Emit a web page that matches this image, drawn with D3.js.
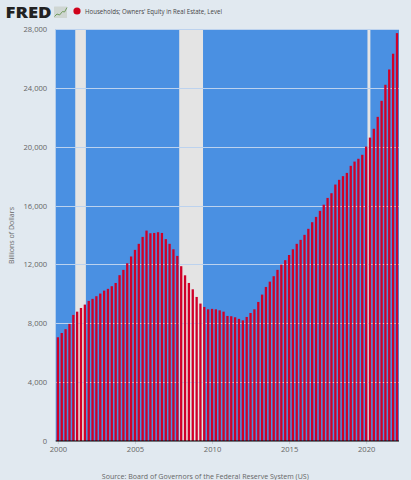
<!DOCTYPE html>
<html>
<head>
<meta charset="utf-8">
<title>Households; Owners' Equity in Real Estate, Level</title>
<script src="https://cdn.jsdelivr.net/npm/d3@7"></script>
<style>
html,body{margin:0;padding:0;background:#e1e9f0;}
svg{display:block;}
text{font-family:"Open Sans",sans-serif;}
</style>
</head>
<body>
<svg id="chart" width="411" height="480"></svg>
<script>
const seriesName = "Households; Owners' Equity in Real Estate, Level";
const yAxisTitle = "Billions of Dollars";
const sourceNote = "Source: Board of Governors of the Federal Reserve System (US)";

// Quarterly levels, billions of dollars, 2000 Q1 through 2022 Q1
const equity = [
  7050, 7340, 7600, 7960, 8570, 8790, 9040, 9270, 9520, 9660,
  9840, 10020, 10220, 10340, 10520, 10740, 11270, 11630, 12080, 12540,
  12990, 13400, 13870, 14300, 14120, 14140, 14190, 14140, 13720, 13400,
  13030, 12580, 11880, 11260, 10740, 10310, 9790, 9340, 9110, 8950,
  8980, 8950, 8880, 8790, 8500, 8480, 8410, 8300, 8200, 8430,
  8700, 8950, 9450, 9950, 10470, 10830, 11200, 11630, 11990, 12290,
  12640, 13030, 13400, 13670, 14010, 14420, 14870, 15230, 15640, 16060,
  16520, 16840, 17430, 17750, 18000, 18220, 18700, 18990, 19180, 19450,
  20010, 20620, 21220, 22030, 23120, 24210, 25250, 26320, 27720
];
const firstQuarter = new Date(2000, 0, 1);
const quarters = equity.map((_, i) => d3.timeMonth.offset(firstQuarter, i * 3));

const recessions = [
  [new Date(2001, 1, 15), new Date(2001, 9, 25)],
  [new Date(2007, 10, 15), new Date(2009, 5, 1)],
  [new Date(2020, 1, 1), new Date(2020, 3, 10)]
];
const yTicks = [0, 4000, 8000, 12000, 16000, 20000, 24000, 28000];
const xTickYears = [2000, 2005, 2010, 2015, 2020];

const plot = {left: 55.7, right: 399, top: 29, bottom: 441};
const colors = {
  plot: "#4a90e2", recession: "#e4e4e4", grid: "#bcd2ee",
  bar: "#d00028", dot: "#d0021b", tick: "#666666", axis: "#000000"
};

const x = d3.scaleTime()
  .domain([firstQuarter, quarters[quarters.length - 1]])
  .range([57.9, 397]);
const y = d3.scaleLinear().domain([0, 28000]).range([plot.bottom, plot.top]);

const svg = d3.select("#chart");

svg.append("rect").attr("width", 411).attr("height", 480).attr("fill", "#e1e9f0");

// Plot area
svg.append("rect")
  .attr("x", plot.left).attr("y", plot.top)
  .attr("width", plot.right - plot.left).attr("height", plot.bottom - plot.top)
  .attr("fill", colors.plot);

// Recession shading
svg.append("g").selectAll("rect").data(recessions).join("rect")
  .attr("x", d => x(d[0]))
  .attr("y", plot.top)
  .attr("width", d => x(d[1]) - x(d[0]))
  .attr("height", plot.bottom - plot.top)
  .attr("fill", colors.recession);

// Horizontal grid
svg.append("g").selectAll("line").data(yTicks.slice(1)).join("line")
  .attr("x1", plot.left).attr("x2", plot.right)
  .attr("y1", d => Math.round(y(d)) + 0.5).attr("y2", d => Math.round(y(d)) + 0.5)
  .attr("stroke", colors.grid).attr("stroke-width", 1);

// Bars
const barWidth = 2.3;
svg.append("g").selectAll("rect").data(equity).join("rect")
  .attr("x", (d, i) => x(quarters[i]) - barWidth / 2)
  .attr("y", d => y(d))
  .attr("width", barWidth)
  .attr("height", d => y(0) - y(d))
  .attr("fill", colors.bar);

// Left axis labels
const yAxis = d3.axisLeft(y)
  .tickValues(yTicks)
  .tickFormat(d3.format(","))
  .tickSize(0)
  .tickPadding(8.5);
const yG = svg.append("g").attr("transform", `translate(${plot.left},0)`).call(yAxis);
yG.select(".domain").remove();
yG.selectAll("text")
  .attr("font-size", 7.6).attr("fill", colors.tick)
  .style("font-family", '"Open Sans",sans-serif');

// Bottom axis
const xAxis = d3.axisBottom(x)
  .tickValues(xTickYears.map(yr => new Date(yr, 0, 1)))
  .tickFormat(d3.timeFormat("%Y"))
  .tickSize(3)
  .tickPadding(3);
const xG = svg.append("g").attr("transform", `translate(0,${plot.bottom})`).call(xAxis);
xG.select(".domain").remove();
xG.selectAll("line").attr("stroke", "#c5ccd3");
xG.selectAll("text")
  .attr("font-size", 7.6).attr("fill", colors.tick)
  .style("font-family", '"Open Sans",sans-serif');

svg.append("line")
  .attr("x1", plot.left).attr("x2", plot.right)
  .attr("y1", plot.bottom).attr("y2", plot.bottom)
  .attr("stroke", colors.axis).attr("stroke-width", 1.2);

// Axis title, taller than the horizontal text because the layout is narrow
svg.append("text")
  .attr("transform", "translate(13.5,235.5) rotate(-90)")
  .attr("text-anchor", "middle")
  .attr("font-size", 8).attr("fill", colors.tick)
  .attr("textLength", 57).attr("lengthAdjust", "spacingAndGlyphs")
  .text(yAxisTitle);

// Source line
svg.append("text")
  .attr("x", 205.3).attr("y", 478.6)
  .attr("text-anchor", "middle")
  .attr("font-size", 7.5).attr("fill", colors.tick)
  .attr("textLength", 207).attr("lengthAdjust", "spacingAndGlyphs")
  .text(sourceNote);

// Masthead wordmark and small chart badge
svg.append("text")
  .attr("x", 5.5).attr("y", 18.2)
  .attr("font-size", 15.6).attr("font-weight", 800)
  .attr("fill", "#222222")
  .attr("textLength", 46).attr("lengthAdjust", "spacingAndGlyphs")
  .style("font-family", '"Open Sans",sans-serif')
  .text("FRED");

const badge = svg.append("g").attr("transform", "translate(54,6.5)");
badge.append("rect").attr("width", 13).attr("height", 11.5).attr("fill", "#cfd6d2").attr("rx", 0.5);
badge.append("path")
  .attr("d", "M0.5,10 L3,7.5 L5.5,8.5 L8.5,5 L10.5,5.5 L13,1")
  .attr("fill", "none").attr("stroke", "#6f9a5c").attr("stroke-width", 1);

// Legend
svg.append("circle").attr("cx", 77).attr("cy", 11).attr("r", 3.6).attr("fill", colors.dot);
svg.append("text")
  .attr("x", 85).attr("y", 13.6)
  .attr("font-size", 6.6).attr("fill", "#444444")
  .attr("textLength", 137).attr("lengthAdjust", "spacingAndGlyphs")
  .text(seriesName);
</script>
</body>
</html>
